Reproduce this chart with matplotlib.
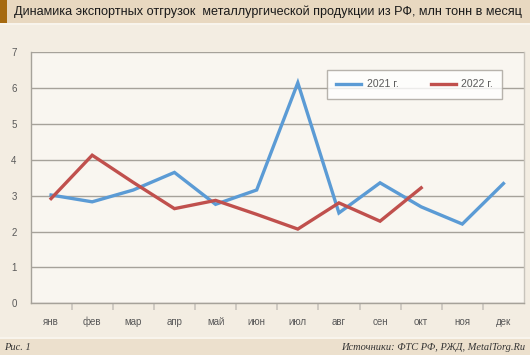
import matplotlib.pyplot as plt
from matplotlib.patches import Rectangle

# --- Data ---
months = ["янв", "фев", "мар", "апр", "май", "июн", "июл", "авг", "сен", "окт", "ноя", "дек"]
y2021 = [3.02, 2.83, 3.16, 3.65, 2.76, 3.16, 6.15, 2.52, 3.36, 2.69, 2.21, 3.34]
y2022 = [2.92, 4.13, 3.37, 2.64, 2.87, 2.48, 2.07, 2.80, 2.29, 3.22]

title = "Динамика экспортных отгрузок  металлургической продукции из РФ, млн тонн в месяц"
note_left = "Рис. 1"
note_right = "Источники: ФТС РФ, РЖД, MetalTorg.Ru"

# --- Colours ---
bg_body = "#f3ede2"
bg_plot = "#f9f6f0"
bg_band = "#e8d8c0"
accent = "#a66a10"
blue = "#5b9bd5"
red = "#c0504d"
grid_c = "#a6a29a"
text_c = "#595959"

W, H = 530, 355
fig = plt.figure(figsize=(W / 100, H / 100), dpi=100)
fig.patch.set_facecolor(bg_body)
plt.rcParams["font.family"] = ["Liberation Sans", "DejaVu Sans"]

# header and footer bands
fig.patches.append(Rectangle((0, 1 - 22.5 / H), 1, 22.5 / H, transform=fig.transFigure,
                             facecolor=bg_band, edgecolor="none", zorder=0))
fig.patches.append(Rectangle((0, 1 - 22.5 / H), 7 / W, 22.5 / H, transform=fig.transFigure,
                             facecolor=accent, edgecolor="none", zorder=1))
fig.patches.append(Rectangle((0, 1 - 25 / H), 1, 2.5 / H, transform=fig.transFigure,
                             facecolor="#f8f4ec", edgecolor="none", zorder=0))
fig.patches.append(Rectangle((0, 0), 1, 16 / H, transform=fig.transFigure,
                             facecolor=bg_band, edgecolor="none", zorder=0, alpha=0.6))
fig.patches.append(Rectangle((0, 16 / H), 1, 2 / H, transform=fig.transFigure,
                             facecolor="#f8f4ec", edgecolor="none", zorder=0))

fig.text(14 / W, 1 - 11.5 / H, title, fontsize=9.05, color="#1a1a1a", va="center", ha="left")
fig.text(4 / W, 8 / H, note_left, fontsize=7.5, color="#333333", style="italic",
         family="Liberation Serif", va="center", ha="left")
fig.text(525 / W, 8 / H, note_right, fontsize=7.5, color="#333333", style="italic",
         family="Liberation Serif", va="center", ha="right")

# --- Plot ---
ax = fig.add_axes([30.5 / W, (H - 303.3) / H, (524 - 30.5) / W, (303.3 - 52.3) / H])
ax.set_facecolor(bg_plot)

x = list(range(len(months)))
ax.plot(x, y2021, color=blue, lw=2.4, label="2021 г.", solid_joinstyle="miter", zorder=3)
ax.plot(x[:len(y2022)], y2022, color=red, lw=2.4, label="2022 г.", solid_joinstyle="miter", zorder=3)

ax.set_xlim(-0.5, len(months) - 0.5)
ax.set_ylim(0, 7)
ax.set_yticks(range(0, 8))
ax.yaxis.grid(True, color=grid_c, lw=1)
ax.set_axisbelow(True)
ax.tick_params(axis="y", length=0, pad=10, labelsize=7, labelcolor=text_c)

ax.set_xticks(x)
ax.set_xticklabels(months)
ax.set_xticks([i - 0.5 for i in range(1, len(months))], minor=True)
ax.tick_params(axis="x", which="major", length=0, pad=15.5, labelsize=7, labelcolor=text_c)
ax.tick_params(axis="x", which="minor", length=5, color="#c8c4bc", width=1.2)
for lab in ax.get_xticklabels():
    lab.set_verticalalignment("baseline")

for s in ["left", "bottom"]:
    ax.spines[s].set_color(grid_c)
    ax.spines[s].set_linewidth(1)
for s in ["top", "right"]:
    ax.spines[s].set_visible(False)
ax.plot([1, 1], [0, 1], transform=ax.transAxes, color="#c8c4bc", lw=1, clip_on=False)

leg = ax.legend(loc="upper left", bbox_to_anchor=((327 - 30.5) / (524 - 30.5), 1 - (70 - 52.3) / 251),
                ncol=2, frameon=True, fancybox=False, fontsize=7.5, handlelength=2.4,
                columnspacing=3.1, borderpad=0.9, handletextpad=0.5, borderaxespad=0,
                labelcolor=text_c)
leg.get_frame().set_edgecolor("#a6a29a")
leg.get_frame().set_facecolor("white")
leg.get_frame().set_linewidth(1)

fig.savefig("out.png", dpi=100, facecolor=fig.get_facecolor())
